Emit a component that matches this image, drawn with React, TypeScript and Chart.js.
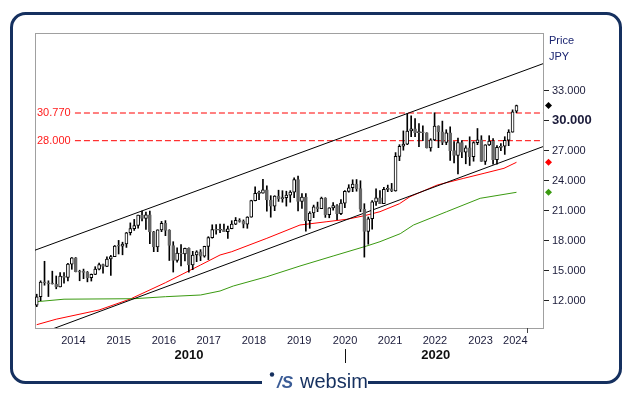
import { useEffect, useRef } from "react";
import { Chart, registerables } from "chart.js";
Chart.register(...registerables);

// Monthly candles, first candle = March 2013 (index 0), last = June 2023 (index 123)
const opens = [
  11559, 12398, 13861, 13775, 13677, 13668, 13389, 14456, 14328, 15662,
  16291, 14915, 14841, 14828, 14304, 14632, 15162, 15621, 15425, 16174, 16414, 17460,
  17451, 17674, 18798, 19207, 19520, 20563, 20236, 20585, 18890, 17388, 19083, 19747,
  19034, 17518, 16027, 16759, 16666, 17235, 15576, 16569, 16887, 16450, 17425, 18308,
  19114, 19041, 19119, 18909, 19197, 19651, 20033, 19925, 19646, 20356, 22012, 22725,
  22765, 23098, 22068, 21454, 22468, 22202, 22305, 22554, 22865, 24120, 21920, 22351,
  20015, 20773, 21385, 21206, 22259, 20601, 21276, 21522, 20704, 21756, 22927, 23294,
  23657, 23205, 21143, 18917, 20194, 21878, 22288, 21710, 23140, 23185, 22977, 26434,
  27444, 27663, 28966, 29179, 28813, 28860, 28792, 27284, 28090, 29453, 28893, 27822,
  28792, 27002, 26527, 27821, 26848, 27280, 26393, 27802, 28092, 25937, 27587, 27969,
  26095, 27327, 27446, 28041, 28856, 30960,
];
const highs = [
  12650, 13990, 15942, 13990, 14953, 14470, 14820, 14800, 15730, 16320,
  16320, 15050, 15160, 14920, 14670, 15400, 15760, 15650, 16375, 16530, 17520, 18030,
  17850, 18830, 19780, 20130, 20570, 20953, 20850, 20950, 18940, 19090, 19930, 20010,
  19100, 17900, 17290, 17610, 17250, 17290, 16940, 17000, 17110, 17450, 18400, 19590,
  19615, 19670, 19670, 19450, 20000, 20320, 20200, 20080, 20400, 22050, 23380, 22950,
  24130, 23490, 22500, 22500, 23050, 23000, 22950, 23000, 24290, 24450, 22700, 22700,
  20900, 21560, 21860, 22360, 22300, 21300, 21800, 21600, 22100, 23000, 23600, 24090,
  24115, 23995, 21700, 20370, 22000, 23180, 23000, 23340, 23560, 23730, 26810, 27600,
  28980, 30714, 30485, 30200, 29700, 29480, 28800, 28200, 30795, 29490, 29960, 29100,
  29390, 27900, 28250, 28000, 27500, 28390, 27900, 29220, 28500, 27600, 28500, 28200,
  27500, 27700, 28400, 29100, 31086, 31560,
];
const lows = [
  11400, 12000, 13550, 12415, 13660, 13190, 13380, 13750, 13990, 15140,
  14880, 13995, 14200, 13885, 13965, 14600, 15080, 14750, 15400, 14530, 16400, 16670,
  16590, 17330, 18570, 19030, 19260, 19990, 19120, 17710, 16900, 16900, 18900, 18500,
  16020, 14865, 15850, 15470, 15975, 14864, 15100, 15900, 16000, 16350, 16110, 18250,
  18650, 18800, 18900, 18220, 19190, 19600, 19850, 19280, 19240, 20350, 21970, 22100,
  22760, 20950, 20350, 21000, 21930, 21850, 21460, 21850, 22310, 20970, 21240, 18950,
  19240, 20300, 20900, 21200, 20330, 20290, 21050, 20110, 20600, 21300, 22850, 22900,
  22950, 20900, 16358, 17650, 19150, 21530, 21700, 21700, 22900, 22900, 22950, 26000,
  27050, 27600, 28400, 28400, 27400, 28010, 27270, 26950, 28000, 27300, 27600, 27600,
  26040, 25775, 24680, 26300, 25690, 25520, 25950, 27600, 25930, 25620, 27520, 25660,
  25660, 27000, 26630, 27500, 28850, 30800,
];
const closes = [
  12398, 13861, 13775, 13677, 13668, 13389, 14456, 14328, 15662, 16291,
  14915, 14841, 14828, 14304, 14632, 15162, 15621, 15425, 16174, 16414, 17460, 17451,
  17674, 18798, 19207, 19520, 20563, 20236, 20585, 18890, 17388, 19083, 19747, 19034,
  17518, 16027, 16759, 16666, 17235, 15576, 16569, 16887, 16450, 17425, 18308, 19114,
  19041, 19119, 18909, 19197, 19651, 20033, 19925, 19646, 20356, 22012, 22725, 22765,
  23098, 22068, 21454, 22468, 22202, 22305, 22554, 22865, 24120, 21920, 22351, 20015,
  20773, 21385, 21206, 22259, 20601, 21276, 21522, 20704, 21756, 22927, 23294, 23657,
  23205, 21143, 18917, 20194, 21878, 22288, 21710, 23140, 23185, 22977, 26434, 27444,
  27663, 28966, 29179, 28813, 28860, 28792, 27284, 28090, 29453, 28893, 27822, 28792,
  27002, 26527, 27821, 26848, 27280, 26393, 27802, 28092, 25937, 27587, 27969, 26095,
  27327, 27446, 28041, 28856, 30888, 31520,
];

// Moving averages: [month index, value]
const redMA = [
  [0, 9600], [5, 10150], [16, 11070], [24, 12170], [33, 13800], [42, 15570], [47, 16570],
  [50, 16900], [59, 18240], [67.5, 19570], [74.4, 19900], [79.5, 20140], [84, 20500],
  [88, 20900], [93, 21700], [95.7, 22400], [102.7, 23570], [109.5, 24240], [114.7, 24740],
  [119.8, 25240], [123, 25840],
];
const greenMA = [
  [0, 11900], [7, 12150], [25, 12200], [33, 12400], [42, 12570], [47, 12970], [50.4, 13470],
  [59, 14400], [67.5, 15470], [76, 16470], [84.6, 17470], [88, 17900], [93.2, 18700],
  [96.6, 19570], [105.1, 20900], [113.7, 22240], [123, 22840],
];
const upperChannel = [[-0.44, 17050], [129.8, 35700]];
const lowerChannel = [[-0.44, 8520], [129.8, 27410]];
const levels = [30770, 28000];
const levelLabels = ["30.770", "28.000"];
const levelStart = 9.8;

const yTicks = [12000, 15000, 18000, 21000, 24000, 27000, 30000, 33000];
const yearTickPos = [9.4, 21.0, 32.6, 44.1, 55.7, 67.3, 79.05, 90.6, 102.1, 113.8, 122.7];
const yearLabels = ["2014", "2015", "2016", "2017", "2018", "2019", "2020", "2021", "2022", "2023", "2024"];
const decadeLabels = ["2010", "2020"];
const decadePos = [39.05, 102.3];
const decadeSeparator = 79.05;
const lastYearTick = 125.7;

const FONT = "'Liberation Sans', Arial, sans-serif";
const NAVY = "#15305f";

const fmt = (v: number) => (v / 1000).toFixed(3);

function diamond(ctx: CanvasRenderingContext2D, x: number, y: number, color: string) {
  const s = 3.5;
  ctx.beginPath();
  ctx.moveTo(x, y - s);
  ctx.lineTo(x + s, y);
  ctx.lineTo(x, y + s);
  ctx.lineTo(x - s, y);
  ctx.closePath();
  ctx.fillStyle = color;
  ctx.fill();
}

const deco = {
  id: "deco",
  beforeDraw(chart: any) {
    const { ctx } = chart;
    ctx.save();
    ctx.fillStyle = "#fff";
    ctx.fillRect(0, 0, chart.width, chart.height);
    ctx.restore();
  },
  beforeDatasetsDraw(chart: any) {
    const { ctx, chartArea: a } = chart;
    ctx.save();
    ctx.strokeStyle = "#a0a0a0";
    ctx.lineWidth = 1;
    ctx.strokeRect(Math.round(a.left) + 0.5, Math.round(a.top) + 0.5, Math.round(a.right - a.left), Math.round(a.bottom - a.top));
    ctx.restore();
  },
  afterDraw(chart: any) {
    const { ctx, chartArea: a, scales } = chart;
    const xs = scales.x;
    const ys = scales.y;
    ctx.save();
    // outer rounded frame
    ctx.strokeStyle = NAVY;
    ctx.lineWidth = 3;
    ctx.beginPath();
    ctx.roundRect(11.5, 13.5, 609, 369, 14);
    ctx.stroke();
    ctx.fillStyle = "#fff";
    ctx.fillRect(262, 378, 106, 9);
    // logo
    ctx.fillStyle = NAVY;
    ctx.beginPath();
    ctx.arc(272, 374.5, 2.2, 0, Math.PI * 2);
    ctx.fill();
    ctx.font = `italic bold 17px ${FONT}`;
    ctx.fillStyle = "#3b5c96";
    ctx.textBaseline = "alphabetic";
    ctx.textAlign = "left";
    ctx.fillText("/S", 277, 388);
    ctx.font = `20px ${FONT}`;
    ctx.fillStyle = NAVY;
    ctx.fillText("websim", 300, 388);

    // Price / JPY
    ctx.font = `11px ${FONT}`;
    ctx.fillStyle = "#1a2470";
    ctx.textBaseline = "middle";
    ctx.fillText("Price", a.right + 6, 41);
    ctx.fillText("JPY", a.right + 6, 57);

    // level labels
    ctx.font = `11px ${FONT}`;
    ctx.fillStyle = "#ff1a1a";
    levels.forEach((lv, i) => {
      ctx.fillText(levelLabels[i], a.left + 2, ys.getPixelForValue(lv));
    });

    // decade labels
    ctx.font = `bold 13px ${FONT}`;
    ctx.fillStyle = "#111";
    ctx.textAlign = "center";
    decadeLabels.forEach((t, i) => {
      ctx.fillText(t, xs.getPixelForValue(decadePos[i]), 355);
    });
    const sx = Math.round(xs.getPixelForValue(decadeSeparator)) + 0.5;
    ctx.strokeStyle = "#111";
    ctx.lineWidth = 1;
    ctx.beginPath();
    ctx.moveTo(sx, 349);
    ctx.lineTo(sx, 363);
    ctx.stroke();
    const tx = Math.round(xs.getPixelForValue(lastYearTick)) + 0.5;
    ctx.strokeStyle = "#444";
    ctx.beginPath();
    ctx.moveTo(tx, a.bottom);
    ctx.lineTo(tx, a.bottom + 5);
    ctx.stroke();

    // diamonds
    const dx = a.right + 5.5;
    diamond(ctx, dx, ys.getPixelForValue(closes[closes.length - 1]), "#000");
    diamond(ctx, dx, ys.getPixelForValue(redMA[redMA.length - 1][1]), "#ff0000");
    diamond(ctx, dx, ys.getPixelForValue(greenMA[greenMA.length - 1][1]), "#3a9a10");
    ctx.restore();
  },
};

export default function App() {
  const ref = useRef<HTMLCanvasElement | null>(null);
  useEffect(() => {
    if (!ref.current) return;
    const up = (i: number) => closes[i] >= opens[i];
    const line = (pts: number[][], color: string, order: number, dash?: number[]) => ({
      type: "line" as const,
      data: pts.map((p) => ({ x: p[0], y: p[1] })),
      borderColor: color,
      borderWidth: 1,
      borderDash: dash || [],
      pointRadius: 0,
      tension: 0,
      order,
    });
    const chart = new Chart(ref.current, {
      type: "bar",
      data: {
        datasets: [
          {
            type: "bar",
            data: closes.map((c, i) => ({ x: i, y: [opens[i], c] })) as any,
            backgroundColor: (ctx: any) => (up(ctx.dataIndex) ? "#ffffff" : "#666666"),
            borderColor: (ctx: any) => (up(ctx.dataIndex) ? "#000000" : "#666666"),
            borderWidth: 1,
            borderSkipped: false,
            barThickness: 3,
            minBarLength: 1,
            grouped: false,
            order: 1,
          } as any,
          {
            type: "bar",
            data: closes.map((_, i) => ({ x: i, y: [lows[i], highs[i]] })) as any,
            backgroundColor: "#000",
            borderWidth: 0,
            barThickness: 1,
            grouped: false,
            order: 2,
          } as any,
          line([[levelStart, levels[0]], [129.8, levels[0]]], "#ff0000", 6, [6, 3]),
          line([[levelStart, levels[1]], [129.8, levels[1]]], "#ff0000", 6, [6, 3]),
          line(upperChannel, "#000000", 4),
          line(lowerChannel, "#000000", 4),
          line(greenMA, "#3a9a10", 5),
          line(redMA, "#ff0000", 5),
        ] as any,
      },
      options: {
        responsive: false,
        animation: false,
        devicePixelRatio: 1,
        layout: { padding: { left: 35, top: 33, right: 19, bottom: 48 } },
        plugins: { legend: { display: false }, tooltip: { enabled: false } },
        scales: {
          x: {
            type: "linear",
            offset: false,
            min: -0.44,
            max: 129.8,
            afterBuildTicks: (s: any) => {
              s.ticks = yearTickPos.map((v) => ({ value: v }));
            },
            afterFit: (s: any) => {
              s.height = 20;
              s.paddingLeft = 0;
              s.paddingRight = 0;
            },
            grid: { display: false, drawTicks: false, offset: false },
            border: { display: true, color: "#a0a0a0" },
            ticks: {
              autoSkip: false,
              maxRotation: 0,
              padding: 6,
              color: "#1b1b3a",
              font: { family: FONT, size: 11 },
              callback: (_v: any, i: number) => yearLabels[i],
            },
          },
          y: {
            position: "right",
            min: 9270,
            max: 38770,
            afterBuildTicks: (s: any) => {
              s.ticks = yTicks.map((v) => ({ value: v }));
            },
            afterFit: (s: any) => {
              s.width = 70;
            },
            grid: { drawOnChartArea: false, drawTicks: true, tickLength: 6, color: "#222" },
            border: { display: true, color: "#a0a0a0" },
            ticks: {
              padding: 3,
              color: "#1b1b3a",
              font: (ctx: any) =>
                ctx.tick && ctx.tick.value === 30000
                  ? { family: FONT, size: 13, weight: "bold" }
                  : { family: FONT, size: 11 },
              callback: (v: any) => fmt(Number(v)),
            },
          },
        },
      } as any,
      plugins: [deco],
    });
    return () => chart.destroy();
  }, []);
  return (
    <div style={{ position: "fixed", left: 0, top: 0, width: 632, height: 396, background: "#fff" }}>
      <canvas ref={ref} width={632} height={396} style={{ display: "block" }} />
    </div>
  );
}
